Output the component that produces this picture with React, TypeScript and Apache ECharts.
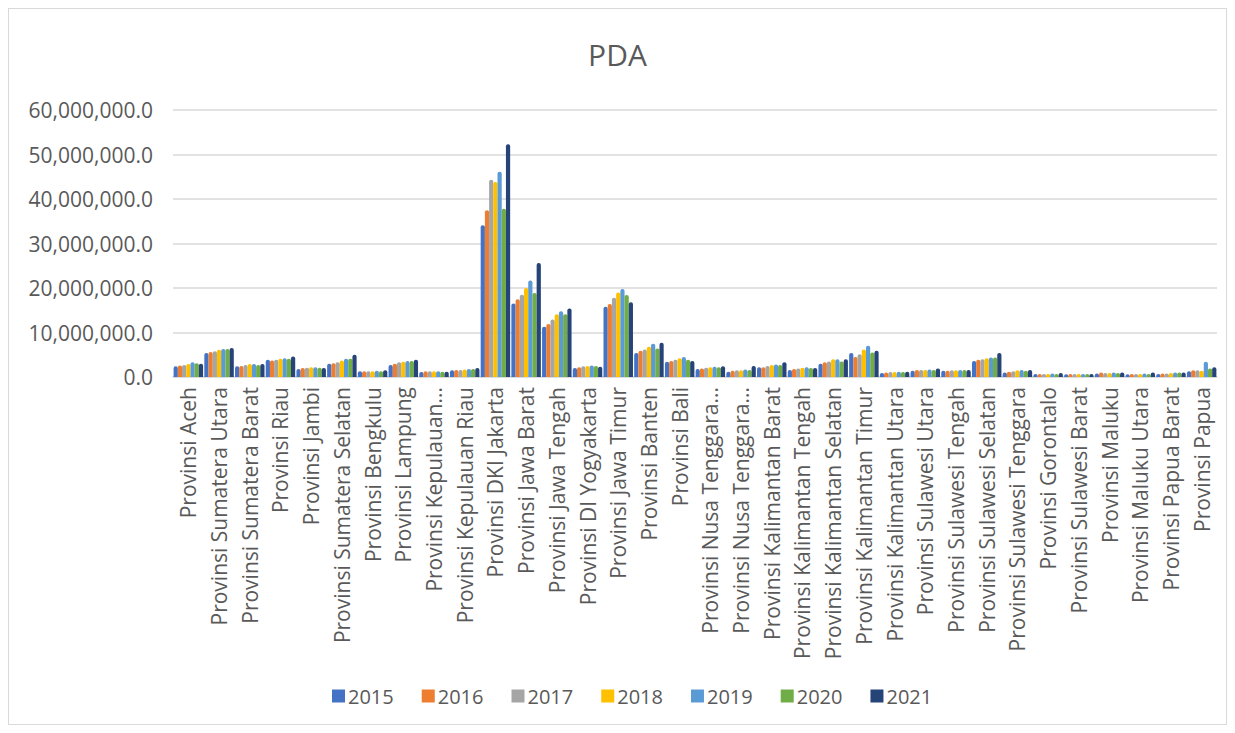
import React, { useEffect, useRef } from "react";
import * as echarts from "echarts";

const categories = [
  "Provinsi Aceh",
  "Provinsi Sumatera Utara",
  "Provinsi Sumatera Barat",
  "Provinsi Riau",
  "Provinsi Jambi",
  "Provinsi Sumatera Selatan",
  "Provinsi Bengkulu",
  "Provinsi Lampung",
  "Provinsi Kepulauan...",
  "Provinsi Kepulauan Riau",
  "Provinsi DKI Jakarta",
  "Provinsi Jawa Barat",
  "Provinsi Jawa Tengah",
  "Provinsi DI Yogyakarta",
  "Provinsi Jawa Timur",
  "Provinsi Banten",
  "Provinsi Bali",
  "Provinsi Nusa Tenggara...",
  "Provinsi Nusa Tenggara...",
  "Provinsi Kalimantan Barat",
  "Provinsi Kalimantan Tengah",
  "Provinsi Kalimantan Selatan",
  "Provinsi Kalimantan Timur",
  "Provinsi Kalimantan Utara",
  "Provinsi Sulawesi Utara",
  "Provinsi Sulawesi Tengah",
  "Provinsi Sulawesi Selatan",
  "Provinsi Sulawesi Tenggara",
  "Provinsi Gorontalo",
  "Provinsi Sulawesi Barat",
  "Provinsi Maluku",
  "Provinsi Maluku Utara",
  "Provinsi Papua Barat",
  "Provinsi Papua",
];

// values in millions
const y2015 = [2.4, 5.4, 2.4, 3.9, 1.8, 3.0, 1.3, 2.7, 1.1, 1.5, 34.1, 16.5, 11.3, 2.0, 15.8, 5.4, 3.4, 1.8, 1.2, 2.2, 1.6, 3.0, 5.4, 0.9, 1.4, 1.4, 3.6, 1.0, 0.7, 0.6, 0.8, 0.6, 0.7, 1.3];
const y2016 = [2.6, 5.6, 2.5, 3.7, 2.0, 3.1, 1.3, 3.0, 1.3, 1.6, 37.5, 17.5, 11.9, 2.2, 16.4, 5.9, 3.6, 1.9, 1.4, 2.2, 1.8, 3.3, 4.5, 1.0, 1.6, 1.4, 3.9, 1.2, 0.7, 0.7, 1.0, 0.7, 0.8, 1.5];
const y2017 = [2.7, 5.8, 2.7, 3.9, 2.1, 3.3, 1.3, 3.3, 1.3, 1.6, 44.3, 18.5, 12.9, 2.4, 17.8, 6.2, 3.9, 2.1, 1.5, 2.5, 1.9, 3.5, 5.1, 1.1, 1.6, 1.5, 4.0, 1.3, 0.7, 0.7, 0.9, 0.7, 0.8, 1.5];
const y2018 = [2.9, 6.1, 2.9, 4.1, 2.2, 3.7, 1.3, 3.4, 1.3, 1.7, 43.8, 20.0, 14.1, 2.5, 19.0, 6.8, 4.2, 2.2, 1.5, 2.7, 2.1, 4.0, 6.2, 1.1, 1.6, 1.5, 4.2, 1.5, 0.7, 0.7, 0.9, 0.7, 0.9, 1.4];
const y2019 = [3.3, 6.3, 2.9, 4.2, 2.2, 4.1, 1.4, 3.6, 1.3, 1.8, 46.1, 21.7, 14.8, 2.6, 19.8, 7.5, 4.5, 2.3, 1.7, 2.8, 2.2, 4.0, 7.0, 1.2, 1.7, 1.6, 4.4, 1.6, 0.8, 0.7, 1.0, 0.8, 1.0, 3.4];
const y2020 = [3.1, 6.3, 2.7, 4.1, 2.1, 4.1, 1.3, 3.6, 1.2, 1.8, 37.8, 18.9, 14.1, 2.5, 18.4, 6.4, 3.9, 2.2, 1.6, 2.7, 2.0, 3.5, 5.5, 1.1, 1.6, 1.6, 4.4, 1.4, 0.7, 0.7, 0.9, 0.7, 1.0, 1.9];
const y2021 = [3.0, 6.5, 2.9, 4.6, 2.0, 5.0, 1.5, 3.9, 1.2, 2.0, 52.3, 25.6, 15.4, 2.3, 16.8, 7.7, 3.6, 2.4, 2.5, 3.3, 2.0, 4.0, 5.9, 1.2, 1.9, 1.6, 5.4, 1.6, 0.9, 0.7, 1.0, 1.0, 1.0, 2.2];

const years = ["2015", "2016", "2017", "2018", "2019", "2020", "2021"];
const seriesValues = [y2015, y2016, y2017, y2018, y2019, y2020, y2021];
const colors = ["#4472C4", "#ED7D31", "#A5A5A5", "#FFC000", "#5B9BD5", "#70AD47", "#264478"];

const FONT = "'Open Sans', Lato, sans-serif";

function fmt(v: number) {
  return v.toLocaleString("en-US", { minimumFractionDigits: 1, maximumFractionDigits: 1 });
}

export default function App() {
  const ref = useRef<HTMLDivElement>(null);
  useEffect(() => {
    if (!ref.current) return;
    const chart = echarts.init(ref.current, undefined, { renderer: "svg" });
    chart.setOption({
      animation: false,
      color: colors,
      title: {
        text: "PDA",
        left: "center",
        top: 25,
        textStyle: { fontFamily: FONT, fontSize: 30, fontWeight: "normal", color: "#595959" },
      },
      legend: {
        bottom: 13,
        left: 318,
        itemWidth: 13,
        itemHeight: 13,
        itemGap: 28,
        icon: "rect",
        textStyle: { fontFamily: FONT, fontSize: 20, color: "#595959", padding: [0, 0, 0, -2] },
        data: years,
      },
      grid: { left: 164, right: 9, top: 101, bottom: 347 },
      xAxis: {
        type: "category",
        data: categories,
        axisLine: { lineStyle: { color: "#D9D9D9", width: 1.5 } },
        axisTick: { show: false },
        axisLabel: {
          rotate: 90,
          interval: 0,
          margin: 10,
          fontFamily: FONT,
          fontSize: 21,
          color: "#595959",
        },
      },
      yAxis: {
        type: "value",
        min: 0,
        max: 60000000,
        interval: 10000000,
        axisLine: { show: false },
        axisTick: { show: false },
        splitLine: { lineStyle: { color: "#D9D9D9", width: 1.5 } },
        axisLabel: {
          formatter: (v: number) => fmt(v),
          margin: 20,
          fontFamily: FONT,
          fontSize: 21,
          color: "#595959",
        },
      },
      series: years.map((y, i) => ({
        name: y,
        type: "bar",
        data: seriesValues[i].map((v) => v * 1000000),
        barGap: "0%",
        barCategoryGap: "4%",
        itemStyle: { borderRadius: [2, 2, 0, 0] },
      })),
    });
    return () => chart.dispose();
  }, []);
  return (
    <div
      ref={ref}
      style={{ width: 1219, height: 717, border: "1px solid #D9D9D9", boxSizing: "border-box" }}
    />
  );
}
